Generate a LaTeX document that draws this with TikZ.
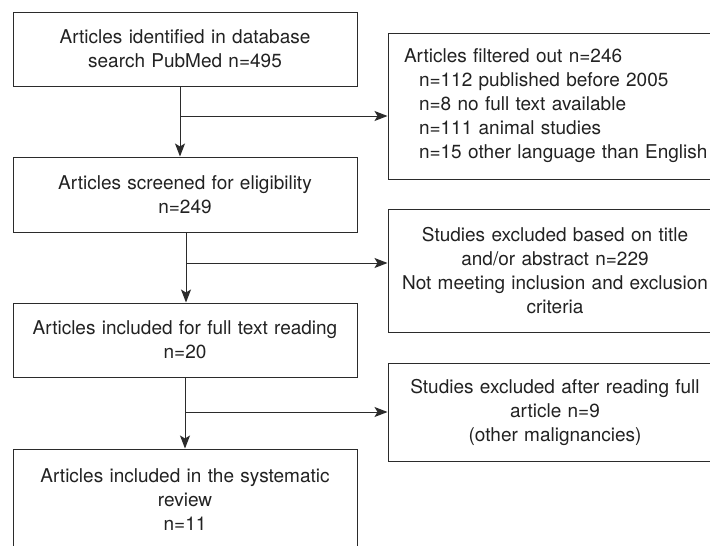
\documentclass[tikz,border=0pt]{standalone}
\usepackage{fontspec}
\setmainfont{TeX Gyre Heros}
\usetikzlibrary{arrows.meta}
\definecolor{linec}{HTML}{2B2B2B}
\definecolor{textc}{HTML}{222222}
\tikzset{
  box/.style={draw=linec, line width=1pt, rectangle, inner sep=0pt, align=center,
    font=\fontsize{19}{24}\selectfont, text=textc},
  leftbox/.style={box, minimum width=344, text width=330},
  rightbox/.style={box, minimum width=334, text width=310},
  arr/.style={draw=linec, line width=1pt, -{Stealth[length=13pt,width=10pt,inset=3pt]}},
}
\begin{document}
\begin{tikzpicture}[x=1pt,y=-1pt]
\path[use as bounding box, clip] (0,0) rectangle (710,546);
\fill[white] (0,0) rectangle (710,546);
% left column
\node[leftbox, minimum height=74] (b1) at (185,49) {Articles identified in database\\search PubMed n=495};
\node[leftbox, minimum height=75] (b2) at (185,194.5) {Articles screened for eligibility\\n=249};
\node[leftbox, minimum height=74] (b3) at (185,340) {Articles included for full text reading\\n=20};
\node[leftbox, minimum height=102] (b4) at (185,500) {Articles included in the systematic\\review\\n=11};
% right column
\node[rightbox, minimum height=146, text width=302, align=left] (r1) at (555,106) {Articles filtered out n=246\\
\mbox{\hspace*{15pt}n=112 published before 2005}\\
\mbox{\hspace*{15pt}n=8 no full text available}\\
\mbox{\hspace*{15pt}n=111 animal studies}\\
\mbox{\hspace*{15pt}n=15 other language than English}};
\node[rightbox, minimum height=123] (r2) at (555,270.5) {Studies excluded based on title\\and/or abstract n=229\\Not meeting inclusion and exclusion\\criteria};
\node[rightbox, minimum height=98] (r3) at (555,412) {Studies excluded after reading full\\article n=9\\(other malignancies)};
% connectors
\draw[arr] ([xshift=-5pt]b1.south) -- ([xshift=-5pt]b2.north);
\coordinate (j1) at (180,116);
\draw[arr] (j1) -- (j1 -| r1.west);
\draw[arr] ([xshift=1pt]b2.south) -- ([xshift=1pt]b3.north);
\coordinate (j2) at (186,263);
\draw[arr] (j2) -- (j2 -| r2.west);
\draw[arr] (b3.south) -- (b4.north);
\coordinate (j3) at (185,412);
\draw[arr] (j3) -- (j3 -| r3.west);
\end{tikzpicture}
\end{document}
